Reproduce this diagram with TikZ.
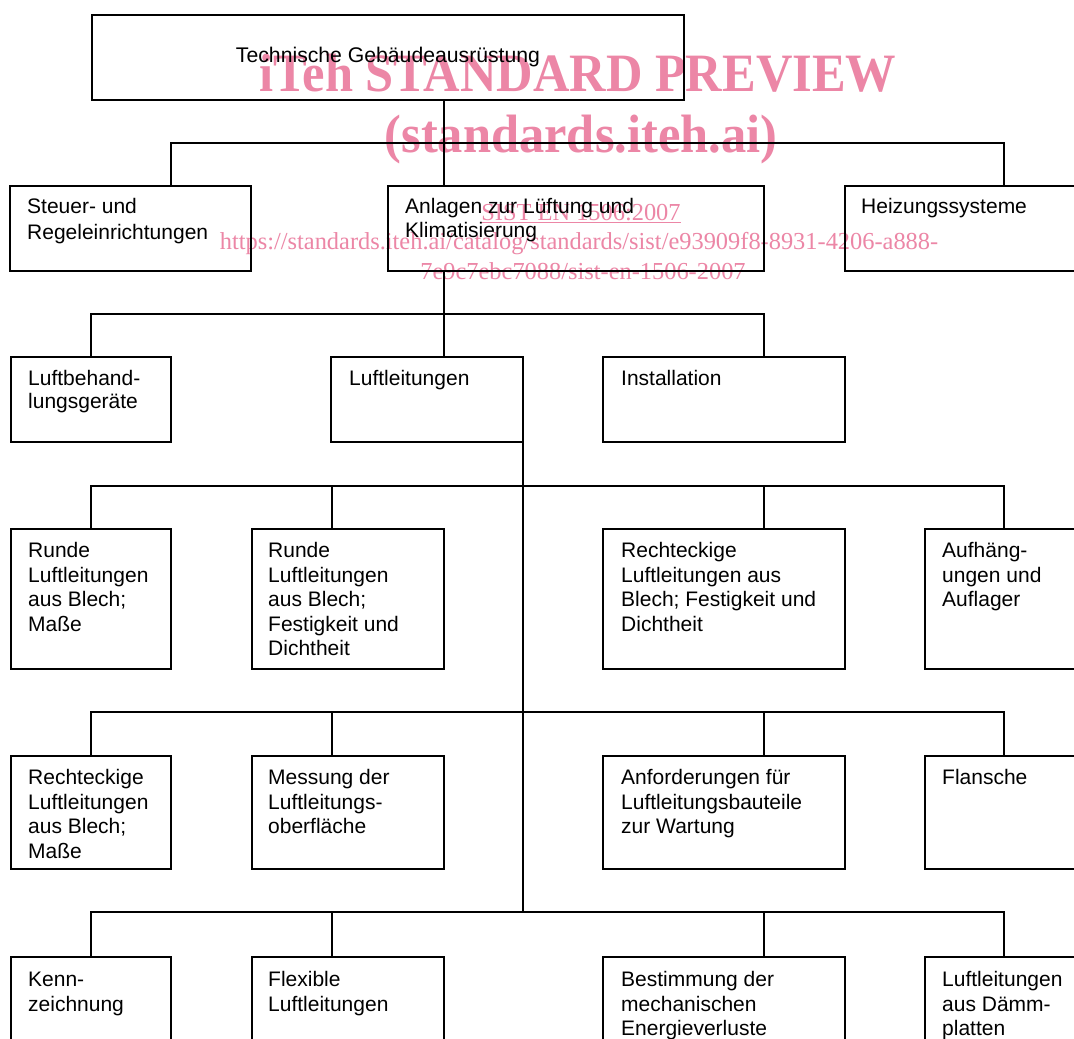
\documentclass[tikz,border=0pt]{standalone}
\usepackage{fontspec}
\usepackage{graphicx}
\setmainfont{Liberation Serif}
\setsansfont{Liberation Sans}
\definecolor{wmpink}{RGB}{236,134,166}
\newcommand{\lnstrut}{\rule{0pt}{15.5pt}}
\begin{document}
\begin{tikzpicture}[x=1pt,y=-1pt,
  box/.style={draw=black, line width=2pt, rectangle, inner sep=0pt, outer sep=0pt, anchor=north west},
  lbl/.style={anchor=north west, inner sep=0pt, align=left, font=\sffamily\fontsize{21}{24.5}\selectfont},
  conn/.style={draw=black, line width=1.8pt},
  wmbig/.style={anchor=base, inner sep=0pt, text=wmpink, font=\rmfamily\bfseries\fontsize{54}{60}\selectfont},
  wmsmall/.style={anchor=base, inner sep=0pt, text=wmpink, font=\rmfamily\fontsize{24.4}{28}\selectfont}]
\useasboundingbox (0,0) rectangle (1074,1039);
\fill[white] (0,0) rectangle (1074,1039);

% watermark (underneath)
\node[wmbig] (wm1) at (578,91) {\scalebox{0.935}[1]{iTeh STANDARD PREVIEW}};
\node[wmbig] (wm2) at (581,152) {\scalebox{0.935}[1]{(standards.iteh.ai)}};
\node[wmsmall] (wm3) at (581,220) {\underline{SIST EN 1506:2007}};
\node[wmsmall] (wm4) at (579,249) {https://standards.iteh.ai/catalog/standards/sist/e93909f8-8931-4206-a888-};
\node[wmsmall] (wm5) at (583,279) {7e9c7ebc7088/sist-en-1506-2007};

% boxes
\node[box, minimum width=592pt, minimum height=85pt] (T) at (92,15) {};
\node[box, minimum width=241pt, minimum height=85pt] (S) at (10,186) {};
\node[box, minimum width=376pt, minimum height=85pt] (A) at (388,186) {};
\node[box, minimum width=250pt, minimum height=85pt] (H) at (845,186) {};
\node[box, minimum width=160pt, minimum height=85pt] (LB) at (11,357) {};
\node[box, minimum width=192pt, minimum height=85pt] (LL) at (331,357) {};
\node[box, minimum width=242pt, minimum height=85pt] (I) at (603,357) {};
\node[box, minimum width=160pt, minimum height=140pt] (R1) at (11,529) {};
\node[box, minimum width=192pt, minimum height=140pt] (R2) at (252,529) {};
\node[box, minimum width=242pt, minimum height=140pt] (R3) at (603,529) {};
\node[box, minimum width=170pt, minimum height=140pt] (R4) at (925,529) {};
\node[box, minimum width=160pt, minimum height=113pt] (Q1) at (11,756) {};
\node[box, minimum width=192pt, minimum height=113pt] (Q2) at (252,756) {};
\node[box, minimum width=242pt, minimum height=113pt] (Q3) at (603,756) {};
\node[box, minimum width=170pt, minimum height=113pt] (Q4) at (925,756) {};
\node[box, minimum width=160pt, minimum height=110pt] (K1) at (11,957) {};
\node[box, minimum width=192pt, minimum height=110pt] (K2) at (252,957) {};
\node[box, minimum width=242pt, minimum height=110pt] (K3) at (603,957) {};
\node[box, minimum width=170pt, minimum height=110pt] (K4) at (925,957) {};

% labels
\node[inner sep=0pt, font=\sffamily\fontsize{21.2}{23}\selectfont] (tT) at (T.center) {Technische Gebäudeausrüstung};
\node[lbl, font=\sffamily\fontsize{21}{25.3}\selectfont] (tS) at ([xshift=17pt,yshift=-12pt]S.north west) {\lnstrut Steuer- und\\Regeleinrichtungen};
\node[lbl, font=\sffamily\fontsize{21}{23.5}\selectfont] (tA) at ([xshift=17pt,yshift=-12pt]A.north west) {\lnstrut Anlagen zur Lüftung und\\Klimatisierung};
\node[lbl] (tH) at ([xshift=16pt,yshift=-12pt]H.north west) {\lnstrut Heizungssysteme};
\node[lbl, font=\sffamily\fontsize{21}{23.5}\selectfont] (tLB) at ([xshift=17pt,yshift=-12.5pt]LB.north west) {\lnstrut Luftbehand-\\lungsgeräte};
\node[lbl] (tLL) at ([xshift=18pt,yshift=-12.5pt]LL.north west) {\lnstrut Luftleitungen};
\node[lbl] (tI) at ([xshift=18pt,yshift=-12.5pt]I.north west) {\lnstrut Installation};
\node[lbl] (tR1) at ([xshift=17pt,yshift=-13pt]R1.north west) {\lnstrut Runde\\Luftleitungen\\aus Blech;\\Maße};
\node[lbl] (tR2) at ([xshift=16pt,yshift=-13pt]R2.north west) {\lnstrut Runde\\Luftleitungen\\aus Blech;\\Festigkeit und\\Dichtheit};
\node[lbl] (tR3) at ([xshift=18pt,yshift=-13pt]R3.north west) {\lnstrut Rechteckige\\Luftleitungen aus\\Blech; Festigkeit und\\Dichtheit};
\node[lbl] (tR4) at ([xshift=17pt,yshift=-13pt]R4.north west) {\lnstrut Aufhäng-\\ungen und\\Auflager};
\node[lbl] (tQ1) at ([xshift=17pt,yshift=-13pt]Q1.north west) {\lnstrut Rechteckige\\Luftleitungen\\aus Blech;\\Maße};
\node[lbl] (tQ2) at ([xshift=16pt,yshift=-13pt]Q2.north west) {\lnstrut Messung der\\Luftleitungs-\\oberfläche};
\node[lbl] (tQ3) at ([xshift=18pt,yshift=-13pt]Q3.north west) {\lnstrut Anforderungen für\\Luftleitungsbauteile\\zur Wartung};
\node[lbl] (tQ4) at ([xshift=17pt,yshift=-13pt]Q4.north west) {\lnstrut Flansche};
\node[lbl] (tK1) at ([xshift=17pt,yshift=-14pt]K1.north west) {\lnstrut Kenn-\\zeichnung};
\node[lbl] (tK2) at ([xshift=16pt,yshift=-14pt]K2.north west) {\lnstrut Flexible\\Luftleitungen};
\node[lbl] (tK3) at ([xshift=18pt,yshift=-14pt]K3.north west) {\lnstrut Bestimmung der\\mechanischen\\Energieverluste};
\node[lbl] (tK4) at ([xshift=17pt,yshift=-14pt]K4.north west) {\lnstrut Luftleitungen\\aus Dämm-\\platten};

% level 1 connectors
\coordinate (j1a) at (171,143);
\coordinate (j1b) at (444,143);
\coordinate (j1c) at (1004,143);
\draw[conn] (S.north -| j1a) -- (j1a) -- (j1c) -- (H.north -| j1c);
\draw[conn] (T.south -| j1b) -- (A.north -| j1b);

% level 2 connectors
\coordinate (j2a) at (91,314);
\coordinate (j2b) at (444,314);
\coordinate (j2c) at (764,314);
\draw[conn] (LB.north -| j2a) -- (j2a) -- (j2c) -- (I.north -| j2c);
\draw[conn] (A.south -| j2b) -- (LL.north -| j2b);

% trunk from Luftleitungen
\coordinate (trunk) at (523,912);
\draw[conn] (LL.south east) -- (trunk);

% level 3 connectors
\coordinate (j3a) at (91,486);
\coordinate (j3b) at (332,486);
\coordinate (j3c) at (764,486);
\coordinate (j3d) at (1004,486);
\draw[conn] (R1.north -| j3a) -- (j3a) -- (j3d) -- (R4.north -| j3d);
\draw[conn] (j3b) -- (R2.north -| j3b);
\draw[conn] (j3c) -- (R3.north -| j3c);

% level 4 connectors
\coordinate (j4a) at (91,712);
\coordinate (j4b) at (332,712);
\coordinate (j4c) at (764,712);
\coordinate (j4d) at (1004,712);
\draw[conn] (Q1.north -| j4a) -- (j4a) -- (j4d) -- (Q4.north -| j4d);
\draw[conn] (j4b) -- (Q2.north -| j4b);
\draw[conn] (j4c) -- (Q3.north -| j4c);

% level 5 connectors
\coordinate (j5a) at (91,912);
\coordinate (j5b) at (332,912);
\coordinate (j5c) at (764,912);
\coordinate (j5d) at (1004,912);
\draw[conn] (K1.north -| j5a) -- (j5a) -- (j5d) -- (K4.north -| j5d);
\draw[conn] (j5b) -- (K2.north -| j5b);
\draw[conn] (j5c) -- (K3.north -| j5c);
\end{tikzpicture}
\end{document}
